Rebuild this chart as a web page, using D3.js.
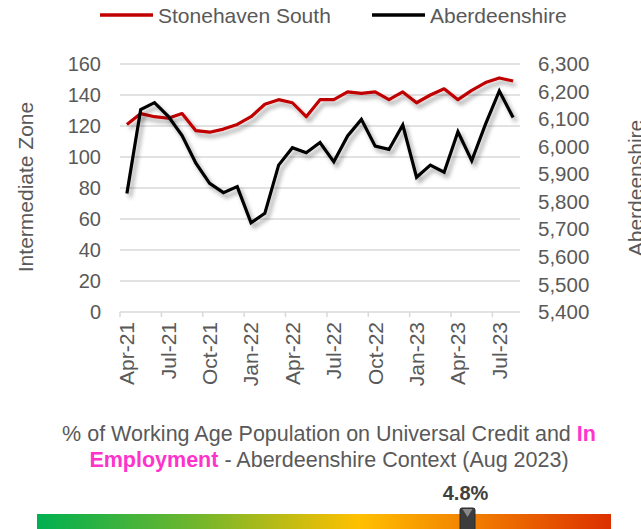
<!DOCTYPE html>
<html><head><meta charset="utf-8">
<script src="https://cdn.jsdelivr.net/npm/d3@7"></script>
<style>
html,body{margin:0;padding:0;background:#fff;}
svg{display:block;font-family:"Liberation Sans",Arial,sans-serif;}
</style></head>
<body>
<svg id="chart" width="641" height="529"></svg>
<script>
const months = ["Apr-21","May-21","Jun-21","Jul-21","Aug-21","Sep-21","Oct-21","Nov-21","Dec-21",
  "Jan-22","Feb-22","Mar-22","Apr-22","May-22","Jun-22","Jul-22","Aug-22","Sep-22","Oct-22","Nov-22","Dec-22",
  "Jan-23","Feb-23","Mar-23","Apr-23","May-23","Jun-23","Jul-23","Aug-23"];
const stonehavenSouth = [121,128,126,125,128,117,116,118,121,126,134,137,135,126,137,137,142,141,142,137,142,135,140,144,137,143,148,151,149];
const aberdeenshire = [5830,6135,6160,6110,6040,5940,5867,5833,5855,5724,5758,5933,5996,5978,6015,5945,6039,6099,6002,5990,6079,5889,5933,5907,6054,5949,6082,6202,6106];
const leftTicks = [0,20,40,60,80,100,120,140,160];
const rightTicks = [5400,5500,5600,5700,5800,5900,6000,6100,6200,6300];
const seriesNames = ["Stonehaven South","Aberdeenshire"];
const contextValue = 4.8;
const contextRange = [1.2, 6.0];

const svg = d3.select("#chart");
const grey = "#595959";
const plot = {l:120, r:520, t:64, b:312};

const x = d3.scaleBand().domain(months).range([plot.l, plot.r]).padding(0);
const yL = d3.scaleLinear().domain([0,160]).range([plot.b, plot.t]);
const yR = d3.scaleLinear().domain([5400,6300]).range([plot.b, plot.t]);
const cx = m => x(m) + x.bandwidth()/2;

const defs = svg.append("defs");
const f = defs.append("filter").attr("id","shadow").attr("x","-10%").attr("y","-10%").attr("width","130%").attr("height","130%");
f.append("feDropShadow").attr("dx",3).attr("dy",4).attr("stdDeviation",2).attr("flood-color","#000").attr("flood-opacity",0.35);

// gridlines
svg.append("g").selectAll("line").data(leftTicks.slice(1)).join("line")
  .attr("x1",plot.l).attr("x2",plot.r).attr("y1",d=>yL(d)).attr("y2",d=>yL(d))
  .attr("stroke","#d9d9d9").attr("stroke-width",1.5);

// left axis
const gL = svg.append("g").attr("transform",`translate(${plot.l-19},0)`)
  .call(d3.axisLeft(yL).tickValues(leftTicks).tickSize(0).tickPadding(0));
gL.select(".domain").remove();
gL.selectAll("text").attr("fill",grey).attr("font-size",20).attr("font-family","Liberation Sans, Arial, sans-serif");

// right axis
const gR = svg.append("g").attr("transform",`translate(${plot.r+18},0)`)
  .call(d3.axisRight(yR).tickValues(rightTicks).tickSize(0).tickPadding(0).tickFormat(d3.format(",")));
gR.select(".domain").remove();
gR.selectAll("text").attr("fill",grey).attr("font-size",20.5).attr("font-family","Liberation Sans, Arial, sans-serif");

// x axis line and ticks
svg.append("line").attr("x1",plot.l).attr("x2",plot.r).attr("y1",plot.b).attr("y2",plot.b)
  .attr("stroke","#d9d9d9").attr("stroke-width",1.5);
const labelMonths = months.filter((m,i)=>i%3===0);
svg.append("g").selectAll("line").data(labelMonths).join("line")
  .attr("x1",d=>x(d)).attr("x2",d=>x(d)).attr("y1",plot.b).attr("y2",plot.b+5)
  .attr("stroke","#d9d9d9").attr("stroke-width",1.5);
const gX = svg.append("g").attr("transform",`translate(0,${plot.b})`)
  .call(d3.axisBottom(x).tickValues(labelMonths).tickSize(0).tickPadding(0));
gX.select(".domain").remove();
gX.selectAll("text")
  .attr("fill",grey).attr("font-size",21).attr("font-family","Liberation Sans, Arial, sans-serif")
  .attr("text-anchor","end").attr("dy","0.35em")
  .attr("transform","translate(0,10) rotate(-90)").attr("y",0).attr("x",0);

// lines
const lineL = d3.line().x((d,i)=>cx(months[i])).y(d=>yL(d));
const lineR = d3.line().x((d,i)=>cx(months[i])).y(d=>yR(d));
svg.append("path").datum(stonehavenSouth).attr("d",lineL).attr("fill","none")
  .attr("stroke","#c00000").attr("stroke-width",3.2).attr("stroke-linejoin","round").attr("filter","url(#shadow)");
svg.append("path").datum(aberdeenshire).attr("d",lineR).attr("fill","none")
  .attr("stroke","#000").attr("stroke-width",3.2).attr("stroke-linejoin","miter").attr("filter","url(#shadow)");

// axis titles
svg.append("text").attr("transform","translate(33,187) rotate(-90)").attr("text-anchor","middle")
  .attr("fill",grey).attr("font-size",21).text("Intermediate Zone");
svg.append("text").attr("transform","translate(643,188) rotate(-90)").attr("text-anchor","middle")
  .attr("fill",grey).attr("font-size",21).text("Aberdeenshire");

// legend
const legend = [{name:seriesNames[0],color:"#c00000",x:100},{name:seriesNames[1],color:"#000",x:372}];
const lg = svg.append("g").selectAll("g").data(legend).join("g").attr("transform",d=>`translate(${d.x},15)`);
lg.append("line").attr("x1",0).attr("x2",53).attr("stroke",d=>d.color).attr("stroke-width",3.5);
lg.append("text").attr("x",58).attr("y",7.5).attr("fill",grey).attr("font-size",21).text(d=>d.name);

// bottom context title
const t = svg.append("text").attr("text-anchor","middle").attr("fill",grey).attr("font-size",21.5);
const t1 = t.append("tspan").attr("x",329).attr("y",441);
t1.append("tspan").text("% of Working Age Population on Universal Credit and ");
t1.append("tspan").attr("fill","#ff33cc").attr("font-weight","bold").text("In");
const t2 = t.append("tspan").attr("x",329).attr("y",467);
t2.append("tspan").attr("fill","#ff33cc").attr("font-weight","bold").text("Employment");
t2.append("tspan").text(" - Aberdeenshire Context (Aug 2023)");

// gradient bar
const grad = defs.append("linearGradient").attr("id","bar").attr("x1","0%").attr("x2","100%");
[["0%","#00b050"],["28%","#72b62c"],["56%","#ffc000"],["78%","#f07800"],["100%","#dc3000"]]
  .forEach(([o,c])=>grad.append("stop").attr("offset",o).attr("stop-color",c));
const bx = d3.scaleLinear().domain(contextRange).range([37,611]);
svg.append("rect").attr("x",37).attr("y",514).attr("width",574).attr("height",20).attr("fill","url(#bar)");
const mx = bx(contextValue);
svg.append("rect").attr("x",mx-7.5).attr("y",508).attr("width",15).attr("height",30).attr("rx",2)
  .attr("fill","#3c3c3c").attr("stroke","#2a2a2a").attr("stroke-width",1);
svg.append("path").attr("d",`M${mx-5},509 L${mx+5},509 L${mx},517 Z`).attr("fill","#8a8a8a");
svg.append("text").attr("x",mx-2).attr("y",500).attr("text-anchor","middle").attr("font-weight","bold")
  .attr("font-size",20).attr("fill","#404040").text(contextValue.toFixed(1)+"%");
</script>
</body></html>
